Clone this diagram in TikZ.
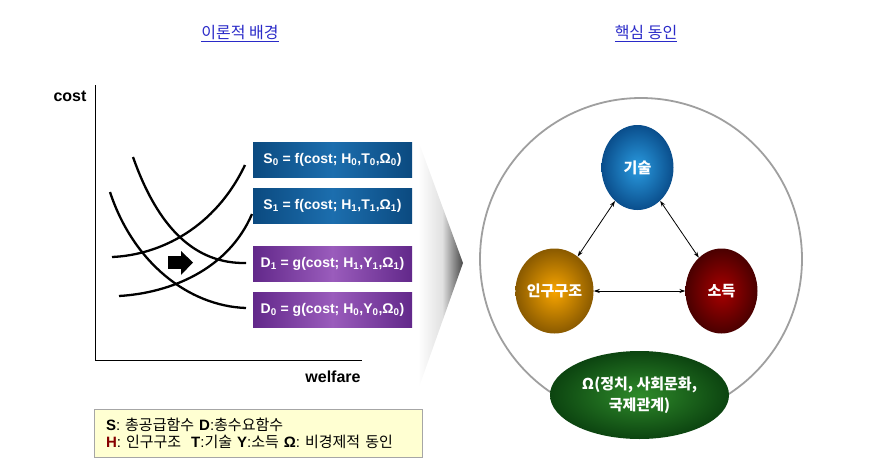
\documentclass[tikz,border=0pt]{standalone}
\usepackage{fontspec}
\setmainfont{Liberation Sans}
\newfontfamily\kr{Noto Sans CJK KR}
\usetikzlibrary{shapes.geometric,arrows.meta,shadings}
\definecolor{titleblue}{HTML}{2A2AC8}
\definecolor{boxblueD}{HTML}{0B4A80}
\definecolor{boxblueL}{HTML}{1C6EAE}
\definecolor{boxpurD}{HTML}{62288A}
\definecolor{boxpurL}{HTML}{9A5CBC}
\definecolor{legfill}{HTML}{FFFFD2}
\definecolor{techin}{HTML}{2A9BE0}
\definecolor{techout}{HTML}{0A4E8C}
\definecolor{popin}{HTML}{F8A500}
\definecolor{popout}{HTML}{8A5A00}
\definecolor{incin}{HTML}{A80000}
\definecolor{incout}{HTML}{4A0000}
\definecolor{omin}{HTML}{2E8A2A}
\definecolor{omout}{HTML}{0C4410}
\pgfdeclarehorizontalshading{chevshade}{100bp}{color(0bp)=(white); color(25bp)=(white); color(52bp)=(white!88!black); color(75bp)=(black!72); color(100bp)=(black!72)}
\tikzset{
  titletext/.style={font=\kr\fontsize{16}{18}\selectfont, text=titleblue},
  axislabel/.style={font=\bfseries\fontsize{16}{18}\selectfont, inner sep=0pt},
  curve/.style={line width=2.3pt, black},
  eqbox/.style={rectangle, minimum width=159pt, minimum height=35pt, inner sep=0pt,
    text=white, font=\bfseries\fontsize{14}{15}\selectfont},
  sbox/.style={eqbox, left color=boxblueD, right color=boxblueD, middle color=boxblueL},
  dbox/.style={eqbox, left color=boxpurD, right color=boxpurD, middle color=boxpurL},
  ball/.style={ellipse, minimum width=72pt, minimum height=85pt, inner sep=0pt,
    text=white, font=\kr\bfseries\fontsize{15}{17}\selectfont},
  link/.style={<->, >={Stealth[length=6pt,width=4pt]}, line width=0.8pt, black},
}
\begin{document}
\begin{tikzpicture}[x=1pt,y=-1pt]
\useasboundingbox (0,0) rectangle (876,474);

% titles
\node[titletext] (t1) at (240,34) {\underline{이론적 배경}};
\node[titletext] (t2) at (646,34) {\underline{핵심 동인}};

% axes
\coordinate (ytop) at (95,85);
\coordinate (orig) at (95,360);
\coordinate (xend) at (362,360);
\draw[line width=1pt] (ytop) -- (orig) -- (xend);
\node[axislabel] (cost) at (70,96) {cost};
\node[axislabel] (welfare) at (333,377) {welfare};

% curves
\draw[curve] (133,157) .. controls (158,228) and (195,264) .. (246,263);
\draw[curve] (110,192) .. controls (133,262) and (188,306) .. (246,308);
\draw[curve] (112,257) .. controls (160,255) and (215,228) .. (245,165);
\draw[curve] (119,296) .. controls (170,293) and (228,270) .. (252,214);

% shift arrow
\fill (168,256) rectangle (182,269);
\fill (181,251) -- (193,262.5) -- (181,275) -- cycle;

% equation boxes
\node[sbox] (s0) at (332.5,160) {S\textsubscript{0} = f(cost; H\textsubscript{0},T\textsubscript{0},Ω\textsubscript{0})};
\node[sbox] (s1) at (332.5,206) {S\textsubscript{1} = f(cost; H\textsubscript{1},T\textsubscript{1},Ω\textsubscript{1})};
\node[dbox] (d1) at (332.5,264) {D\textsubscript{1} = g(cost; H\textsubscript{1},Y\textsubscript{1},Ω\textsubscript{1})};
\node[dbox] (d0) at (332.5,309.5) {D\textsubscript{0} = g(cost; H\textsubscript{0},Y\textsubscript{0},Ω\textsubscript{0})};

% legend
\node[rectangle, draw=gray!70, line width=1pt, fill=legfill, minimum width=328pt, minimum height=48pt,
  inner xsep=12pt, align=left, font=\fontsize{15}{17}\selectfont, text width=304pt] (legend) at (258,433)
  {\textbf{S}: {\kr 총공급함수} \textbf{D}:{\kr 총수요함수}\\
   \textbf{\color{incin!80!black}H}: {\kr 인구구조} \ \textbf{T}:{\kr 기술} \textbf{Y}:{\kr 소득} \textbf{Ω}: {\kr 비경제적 동인}};

% chevron
\shade[shading=chevshade] (418,140) -- (463,263) -- (418,390) -- cycle;

% big circle
\node[circle, draw=gray!75, line width=1.8pt, minimum size=322pt, inner sep=0pt] (big) at (641,259) {};

% factor balls
\node[ball, inner color=techin, outer color=techout] (tech) at (637.5,167.5) {기술};
\node[ball, inner color=popin, outer color=popout] (pop) at (554.5,291) {인구구조};
\node[ball, inner color=incin, outer color=incout] (inc) at (721.5,291) {소득};
\node[ellipse, minimum width=179pt, minimum height=88pt, inner sep=0pt, inner color=omin, outer color=omout,
  text=white, align=center, font=\kr\bfseries\fontsize{15}{21}\selectfont] (omega) at (639.5,395)
  {Ω(정치, 사회문화,\\ 국제관계)};

% links
\draw[link] (tech) -- (pop);
\draw[link] (tech) -- (inc);
\draw[link] (pop) -- (inc);
\end{tikzpicture}
\end{document}
